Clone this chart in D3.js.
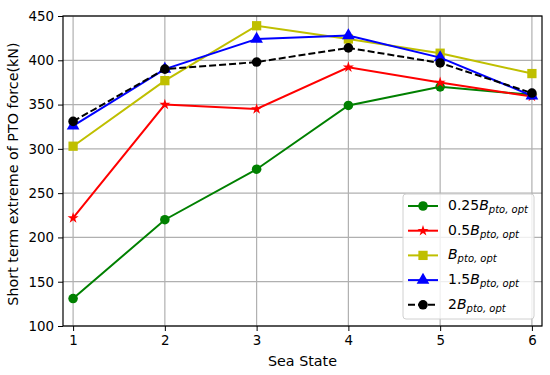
<!DOCTYPE html>
<html>
<head>
<meta charset="utf-8">
<script src="https://cdn.jsdelivr.net/npm/d3@7"></script>
<style>
  body { margin: 0; background: #fff; }
  text { font-family: "DejaVu Sans", sans-serif; }
</style>
</head>
<body>
<div id="chart"></div>
<script>
const seaStates = [1, 2, 3, 4, 5, 6]
const yTicks = [100, 150, 200, 250, 300, 350, 400, 450]

const b025 = [131, 220, 277, 349, 370, 361]
const b05 = [222, 350, 345, 392, 375, 359]
const b10 = [303, 377, 439, 424, 408, 385]
const b15 = [326, 390, 424, 428, 403, 360]
const b20 = [331, 390, 398, 414, 397, 363]

const series = [
  {coef: '0.25', values: b025, color: 'green', marker: 'circle', dash: null},
  {coef: '0.5', values: b05, color: 'red', marker: 'star', dash: null},
  {coef: '', values: b10, color: '#bfbf00', marker: 'square', dash: null},
  {coef: '1.5', values: b15, color: 'blue', marker: 'triangle', dash: null},
  {coef: '2', values: b20, color: 'black', marker: 'circle', dash: '7,3'}
]

const width = 550
const height = 375
const margin = {top: 16, right: 8, bottom: 49, left: 63}
const innerW = width - margin.left - margin.right
const innerH = height - margin.top - margin.bottom

const x = d3.scaleLinear().domain([0.89, 6.11]).range([0, innerW])
const y = d3.scaleLinear().domain([100, 450]).range([innerH, 0])

const svg = d3.select('#chart').append('svg')
    .attr('width', width)
    .attr('height', height)

const g = svg.append('g')
    .attr('transform', 'translate(' + margin.left + ',' + margin.top + ')')

// grid
g.append('g').selectAll('line').data(seaStates).join('line')
    .attr('x1', d => x(d)).attr('x2', d => x(d))
    .attr('y1', 0).attr('y2', innerH)
    .attr('stroke', '#b0b0b0').attr('stroke-width', 1.2)
g.append('g').selectAll('line').data(yTicks).join('line')
    .attr('x1', 0).attr('x2', innerW)
    .attr('y1', d => y(d)).attr('y2', d => y(d))
    .attr('stroke', '#b0b0b0').attr('stroke-width', 1.2)

function markerPath (type) {
  if (type === 'circle') return d3.symbol(d3.symbolCircle, 72)()
  if (type === 'square') return d3.symbol(d3.symbolSquare, 86)()
  if (type === 'triangle') return d3.symbol(d3.symbolTriangle, 70)()
  return d3.symbol(d3.symbolStar, 38)()
}

const line = d3.line()
    .x((d, i) => x(seaStates[i]))
    .y(d => y(d))

series.forEach(function (s) {
  g.append('path').datum(s.values)
      .attr('d', line)
      .attr('fill', 'none')
      .attr('stroke', s.color)
      .attr('stroke-width', 2)
      .attr('stroke-dasharray', s.dash)
  g.append('g').selectAll('path').data(s.values).join('path')
      .attr('d', markerPath(s.marker))
      .attr('transform', (d, i) => 'translate(' + x(seaStates[i]) + ',' + y(d) + ')')
      .attr('fill', s.color)
})

// axes
const xAxis = g.append('g')
    .attr('transform', 'translate(0,' + innerH + ')')
    .call(d3.axisBottom(x).tickValues(seaStates).tickFormat(d3.format('d')).tickSize(5).tickPadding(4))
const yAxis = g.append('g')
    .call(d3.axisLeft(y).tickValues(yTicks).tickSize(5).tickPadding(4))
;[xAxis, yAxis].forEach(function (a) {
  a.select('.domain').remove()
  a.selectAll('text').attr('font-size', 13.4).attr('fill', '#000').attr('font-family', 'DejaVu Sans')
  a.selectAll('line').attr('stroke', '#000')
})

g.append('rect')
    .attr('width', innerW).attr('height', innerH)
    .attr('fill', 'none').attr('stroke', '#000').attr('stroke-width', 1.2)

svg.append('text')
    .attr('x', margin.left + innerW / 2).attr('y', 366)
    .attr('text-anchor', 'middle').attr('font-size', 14.3)
    .text('Sea State')
svg.append('text')
    .attr('transform', 'translate(18,' + (margin.top + innerH / 2 + 3) + ')rotate(-90)')
    .attr('text-anchor', 'middle').attr('font-size', 14.3)
    .text('Short term extreme of PTO force(kN)')

// legend
const legend = svg.append('g').attr('transform', 'translate(403,194)')
legend.append('rect')
    .attr('width', 131).attr('height', 125).attr('rx', 3)
    .attr('fill', '#fff').attr('fill-opacity', 0.8)
    .attr('stroke', '#d0d0d0')
series.forEach(function (s, i) {
  const row = legend.append('g').attr('transform', 'translate(0,' + (12 + i * 24.7) + ')')
  row.append('line')
      .attr('x1', 5).attr('x2', 35)
      .attr('stroke', s.color).attr('stroke-width', 2)
      .attr('stroke-dasharray', s.dash)
  row.append('path')
      .attr('d', markerPath(s.marker))
      .attr('transform', 'translate(20,0)')
      .attr('fill', s.color)
  const t = row.append('text').attr('x', 45).attr('y', 4).attr('font-size', 14)
  t.append('tspan').text(s.coef)
  t.append('tspan').attr('font-style', 'italic').text('B')
  t.append('tspan').attr('font-style', 'italic').attr('font-size', 10).attr('dy', 3).text('pto, opt')
})
</script>
</body>
</html>
